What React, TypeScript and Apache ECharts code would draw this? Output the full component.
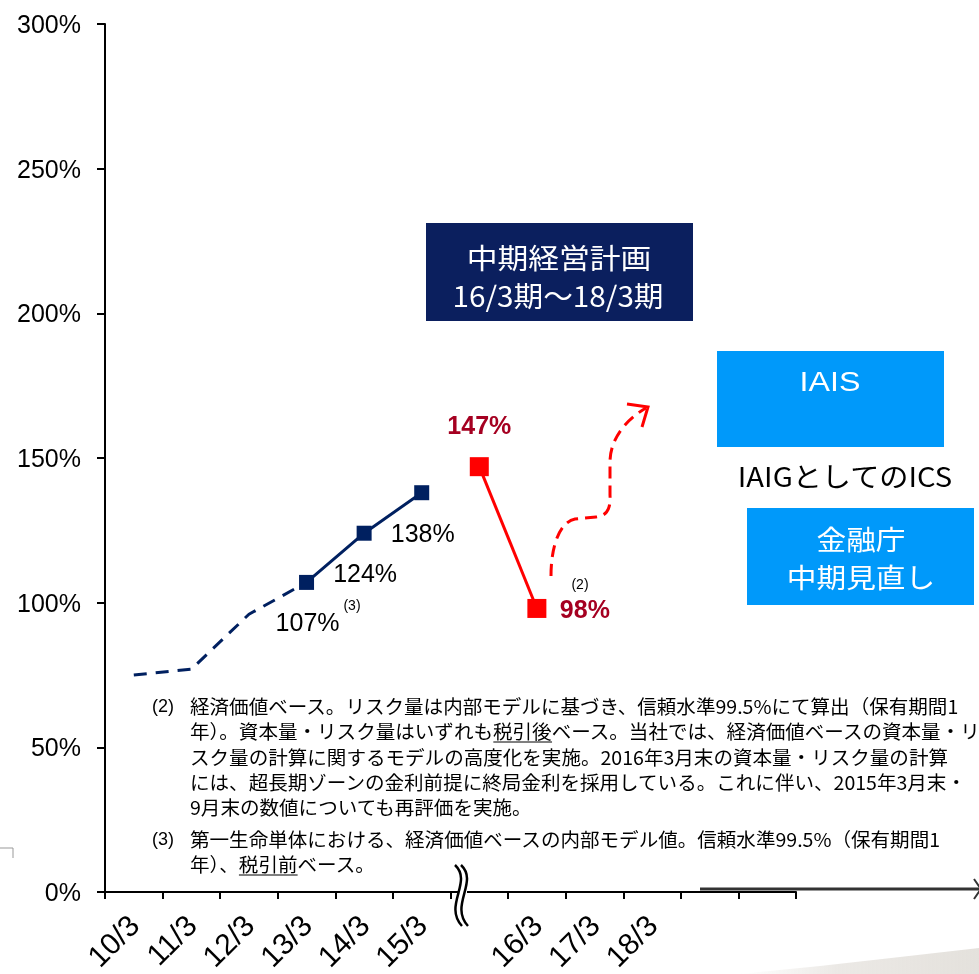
import React, { useEffect, useRef } from 'react';
import * as echarts from 'echarts';

// ---------- data ----------
const categories = ['10/3', '11/3', '12/3', '13/3', '14/3', '15/3', '', '16/3', '17/3', '18/3', '', ''];
const legacyRatio = [75, 77, 96, 107, null, null, null, null, null, null, null, null];
const esrRatio = [null, null, null, 107, 124, 138, null, null, null, null, null, null];
const newRatio = [null, null, null, null, null, null, 147, 98, null, null, null, null];
const yMin = 0;
const yMax = 300;
const yInterval = 50;

const planTitle = ['中期経営計画', '16/3期～18/3期'];
const iaisText = 'IAIS';
const icsText = 'IAIGとしてのICS';
const fsaText = ['金融庁', '中期見直し'];

const note2Lines = [
  '経済価値ベース。リスク量は内部モデルに基づき、信頼水準99.5%にて算出（保有期間1',
  '年）。資本量・リスク量はいずれも税引後ベース。当社では、経済価値ベースの資本量・リ',
  'スク量の計算に関するモデルの高度化を実施。2016年3月末の資本量・リスク量の計算',
  'には、超長期ゾーンの金利前提に終局金利を採用している。これに伴い、2015年3月末・',
  '9月末の数値についても再評価を実施。',
];
const note3Lines = [
  '第一生命単体における、経済価値ベースの内部モデル値。信頼水準99.5%（保有期間1',
  '年）、税引前ベース。',
];

// ---------- styles ----------
const NAVY = '#002060';
const RED = '#ff0000';
const DARKRED = '#a50021';
const BOX_NAVY = '#0b1f5e';
const BOX_BLUE = '#0099fa';
const NUM_FONT = "'Liberation Sans', Arial, sans-serif";
const JP_FONT = "'Noto Sans CJK JP', 'Noto Sans', sans-serif";
const NOTE_SIZE = 19;
const NOTE_SCALE = 1.03;

echarts.graphic.registerShape(
  'riseCurve',
  echarts.graphic.extendPath(
    'M551,576 C551,545 560,522 575,519 L596,517 C606,516 611,510 610,495 L610,462 C610,440 625,420 646,408',
    {}
  )
);

function measure(text: string, size: number, family: string): number {
  const c = document.createElement('canvas').getContext('2d');
  if (!c) return text.length * size;
  c.font = `${size}px ${family}`;
  return c.measureText(text).width;
}

function txt(x: number, y: number, text: string, extra: any = {}, styleExtra: any = {}) {
  return {
    type: 'text',
    x,
    y,
    z: 50,
    ...extra,
    style: {
      text,
      fill: '#000',
      fontSize: 20,
      fontFamily: JP_FONT,
      textAlign: 'left',
      textVerticalAlign: 'middle',
      verticalAlign: 'middle',
      ...styleExtra,
    },
  };
}

export default function App() {
  const ref = useRef<HTMLDivElement>(null);

  useEffect(() => {
    if (!ref.current) return;
    const chart = echarts.init(ref.current, null, { renderer: 'svg' });

    const noteX = 190;
    const note2Y = [706, 731, 757, 782, 807];
    const note3Y = [839, 864];

    const graphics: any[] = [];

    // plan box
    graphics.push({ type: 'rect', shape: { x: 426, y: 223, width: 267, height: 98 }, style: { fill: BOX_NAVY }, z: 40 });
    graphics.push(txt(559, 257, planTitle[0], { scaleX: 1.1 }, { fill: '#fff', fontSize: 28, textAlign: 'center' }));
    graphics.push(txt(558, 295, planTitle[1], { scaleX: 1.06 }, { fill: '#fff', fontSize: 28, textAlign: 'center' }));

    // IAIS box
    graphics.push({ type: 'rect', shape: { x: 717, y: 351, width: 227, height: 96 }, style: { fill: BOX_BLUE }, z: 40 });
    graphics.push(txt(830, 381, iaisText, { scaleX: 1.15 }, { fill: '#fff', fontSize: 28, fontFamily: NUM_FONT, textAlign: 'center' }));
    graphics.push(txt(845, 475, icsText, { scaleX: 1.08 }, { fontSize: 27, textAlign: 'center' }));

    // FSA box
    graphics.push({ type: 'rect', shape: { x: 747, y: 508, width: 227, height: 97 }, style: { fill: BOX_BLUE }, z: 40 });
    graphics.push(txt(861, 538, fsaText[0], { scaleX: 1.1 }, { fill: '#fff', fontSize: 27, textAlign: 'center' }));
    graphics.push(txt(861, 576, fsaText[1], { scaleX: 1.1 }, { fill: '#fff', fontSize: 27, textAlign: 'center' }));

    // superscripts
    graphics.push(txt(352, 605, '(3)', {}, { fontSize: 14, fontFamily: NUM_FONT, textAlign: 'center' }));
    graphics.push(txt(580, 584, '(2)', {}, { fontSize: 14, fontFamily: NUM_FONT, textAlign: 'center' }));

    // red rising dashed arrow
    graphics.push({ type: 'riseCurve', x: 0, y: 0, z: 30, style: { stroke: RED, lineWidth: 3, fill: 'none', lineDash: [12, 7] } });
    graphics.push({ type: 'polyline', z: 30, shape: { points: [[627, 404], [648, 407], [642, 427]] }, style: { stroke: RED, lineWidth: 3, fill: 'none' } });

    // footnotes
    const noteStyle = { fontSize: NOTE_SIZE, lineHeight: 22 };
    graphics.push(txt(152, note2Y[0], '(2)', {}, { ...noteStyle, fontFamily: NUM_FONT, fontSize: 18 }));
    note2Lines.forEach((l, i) => graphics.push(txt(noteX, note2Y[i], l, { scaleX: NOTE_SCALE }, noteStyle)));
    graphics.push(txt(152, note3Y[0], '(3)', {}, { ...noteStyle, fontFamily: NUM_FONT, fontSize: 18 }));
    note3Lines.forEach((l, i) => graphics.push(txt(noteX, note3Y[i], l, { scaleX: NOTE_SCALE }, noteStyle)));

    // underlines
    const ul = (line: string, word: string, y: number) => {
      const idx = line.indexOf(word);
      const x0 = noteX + NOTE_SCALE * measure(line.slice(0, idx), NOTE_SIZE, JP_FONT);
      const w = NOTE_SCALE * measure(word, NOTE_SIZE, JP_FONT);
      graphics.push({ type: 'line', z: 50, shape: { x1: x0, y1: y + 11, x2: x0 + w, y2: y + 11 }, style: { stroke: '#000', lineWidth: 1 } });
    };
    ul(note2Lines[1], '税引後', note2Y[1]);
    ul(note3Lines[1], '税引前', note3Y[1]);

    // axis break
    graphics.push({ type: 'rect', z: 60, shape: { x: 459, y: 888, width: 8, height: 8 }, style: { fill: '#fff' } });
    [0, 6].forEach((dx) => {
      graphics.push({
        type: 'bezierCurve',
        z: 61,
        shape: { x1: 455 + dx, y1: 865, cpx1: 473 + dx, cpy1: 882, cpx2: 443 + dx, cpy2: 905, x2: 462 + dx, y2: 926 },
        style: { stroke: '#000', lineWidth: 2.5, fill: 'none' },
      });
    });

    // bottom-right arrow
    graphics.push({ type: 'line', z: 20, shape: { x1: 700, y1: 889, x2: 979, y2: 889 }, style: { stroke: '#333', lineWidth: 3 } });
    graphics.push({ type: 'polyline', z: 20, shape: { points: [[974, 879], [981, 889], [974, 899]] }, style: { stroke: '#333', lineWidth: 2, fill: 'none' } });

    // decorative swoosh
    graphics.push({
      type: 'polygon',
      z: 1,
      shape: { points: [[740, 974], [820, 966], [900, 957], [979, 948], [979, 974]] },
      style: {
        fill: new echarts.graphic.LinearGradient(0, 0, 1, 0, [
          { offset: 0, color: 'rgba(235,232,228,0)' },
          { offset: 0.4, color: 'rgba(232,229,225,0.85)' },
          { offset: 1, color: 'rgba(228,225,220,1)' },
        ]),
      },
    });

    // corner mark
    graphics.push({ type: 'polyline', z: 20, shape: { points: [[0, 848], [13, 848], [13, 858]] }, style: { stroke: '#999', lineWidth: 1, fill: 'none' } });

    const redData = newRatio.map((v, i) => {
      if (v == null) return null;
      const label = i === 6 ? { offset: [0, -42] } : { offset: [48, 1] };
      return { value: v, label };
    });

    chart.setOption({
      animation: false,
      grid: { left: 105, right: 183, top: 24, bottom: 82, containLabel: false },
      xAxis: {
        type: 'category',
        data: categories,
        boundaryGap: true,
        axisLine: { show: true, lineStyle: { color: '#000', width: 2 } },
        axisTick: { show: true, interval: 0, length: 7, lineStyle: { color: '#000', width: 2 } },
        axisLabel: {
          interval: 0,
          rotate: 45,
          margin: 28,
          color: '#000',
          fontSize: 30,
          fontFamily: NUM_FONT,
        },
        splitLine: { show: false },
      },
      yAxis: {
        type: 'value',
        min: yMin,
        max: yMax,
        interval: yInterval,
        axisLine: { show: true, lineStyle: { color: '#000', width: 2 } },
        axisTick: { show: true, length: 8, lineStyle: { color: '#000', width: 2 } },
        axisLabel: { formatter: '{value}%', color: '#000', fontSize: 25, fontFamily: NUM_FONT, margin: 24 },
        splitLine: { show: false },
      },
      graphic: graphics,
      series: [
        {
          type: 'line',
          data: legacyRatio,
          symbol: 'none',
          lineStyle: { color: NAVY, width: 3, type: [13, 9] },
          z: 2,
        },
        {
          type: 'line',
          data: esrRatio,
          symbol: 'rect',
          symbolSize: 15,
          itemStyle: { color: NAVY },
          lineStyle: { color: NAVY, width: 3 },
          label: {
            show: true,
            position: 'inside',
            offset: [1, 40],
            formatter: (p: any) => `${p.value}%`,
            color: '#000',
            fontSize: 25,
            fontFamily: NUM_FONT,
          },
          z: 3,
        },
        {
          type: 'line',
          data: redData,
          symbol: 'rect',
          symbolSize: 19,
          itemStyle: { color: RED },
          lineStyle: { color: RED, width: 3 },
          label: {
            show: true,
            position: 'inside',
            formatter: (p: any) => `${p.value}%`,
            color: DARKRED,
            fontSize: 25,
            fontWeight: 'bold',
            fontFamily: NUM_FONT,
          },
          z: 3,
        },
      ],
    });

    return () => chart.dispose();
  }, []);

  return <div ref={ref} style={{ position: 'fixed', left: 0, top: 0, width: 979, height: 974 }} />;
}
